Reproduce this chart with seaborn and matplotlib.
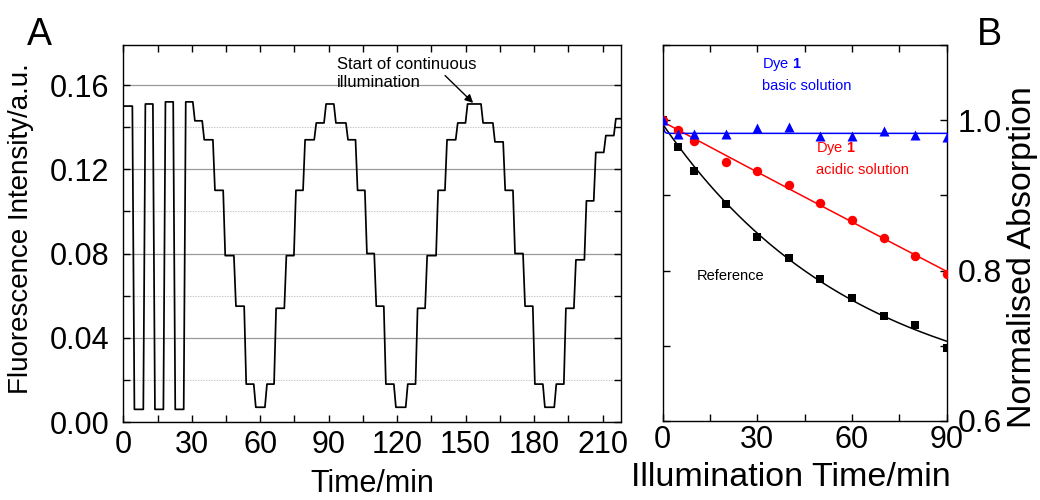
import numpy as np
import matplotlib
matplotlib.use("Agg")
import matplotlib.pyplot as plt
from matplotlib.ticker import MultipleLocator, FormatStrFormatter
import seaborn as sns

# ---------------- Panel A: fluorescence staircase trace ----------------
# intensity of each plateau (a.u.) and the times (min) at which the trace
# switches from one plateau to the next
plateau_level = [0.150, 0.006, 0.151, 0.006, 0.152, 0.006, 0.152,
                 0.143, 0.134, 0.110, 0.079, 0.055, 0.018, 0.007,
                 0.018, 0.054, 0.079, 0.110, 0.134, 0.142, 0.151,
                 0.142, 0.134, 0.110, 0.080, 0.055, 0.018, 0.007,
                 0.018, 0.054, 0.079, 0.110, 0.134, 0.142, 0.151,
                 0.142, 0.133, 0.110, 0.080, 0.055, 0.018, 0.007,
                 0.018, 0.054, 0.077, 0.105, 0.128, 0.136, 0.144]
switch_time = [4.4, 9.2, 13.4, 18.0, 22.3, 26.9,
               30.9, 35.0, 39.7, 44.2, 48.9, 53.4, 57.6,
               62.5, 66.5, 71.0, 75.2, 79.2, 84.1, 88.4,
               92.7, 98.0, 102.2, 106.3, 110.4, 114.6, 119.0,
               124.2, 128.5, 132.7, 137.5, 141.4, 146.1, 150.4,
               157.2, 162.4, 166.9, 171.2, 175.6, 179.9, 184.3,
               189.3, 193.5, 197.9, 202.5, 206.6, 211.0, 215.4]
trace_start, trace_end = 0.0, 218.0

# ---------------- Panel B: photobleaching kinetics ----------------
illum_time = [0, 5, 10, 20, 30, 40, 50, 60, 70, 80, 90]
abs_reference = [1.000, 0.965, 0.933, 0.889, 0.845, 0.817, 0.789, 0.764, 0.740, 0.728, 0.697]
abs_acidic = [1.000, 0.987, 0.973, 0.945, 0.933, 0.914, 0.890, 0.867, 0.843, 0.819, 0.796]
abs_basic = [1.000, 0.982, 0.982, 0.981, 0.989, 0.991, 0.979, 0.979, 0.985, 0.980, 0.977]

sns.set_theme(style="ticks")
plt.rcParams["font.family"] = ["Liberation Sans", "DejaVu Sans"]
plt.rcParams["mathtext.fontset"] = "custom"
plt.rcParams["mathtext.rm"] = "Liberation Sans"
plt.rcParams["mathtext.bf"] = "Liberation Sans:bold"
for key in ("text.color", "axes.labelcolor", "xtick.color", "ytick.color", "axes.edgecolor"):
    plt.rcParams[key] = "black"
plt.rcParams["axes.linewidth"] = 1.0

fig = plt.figure(figsize=(10.4, 5.0), dpi=100)
axA = fig.add_axes([0.1186, 0.156, 0.4783, 0.754])
axB = fig.add_axes([0.6372, 0.158, 0.2731, 0.752])

# trace vertices: each switch is a short, steep ramp between two plateaus
half_ramp = 0.45
trace_t = [trace_start]
trace_v = [plateau_level[0]]
for i, ts in enumerate(switch_time):
    trace_t += [ts - half_ramp, ts + half_ramp]
    trace_v += [plateau_level[i], plateau_level[i + 1]]
trace_t.append(trace_end)
trace_v.append(plateau_level[-1])

axA.set_axisbelow(True)
axA.yaxis.grid(True, which="major", color="#9a9a9a", linewidth=0.9, linestyle="-")
axA.yaxis.grid(True, which="minor", color="#c4c4c4", linewidth=0.8, linestyle=(0, (1.2, 1.2)))
axA.xaxis.grid(False, which="both")
sns.lineplot(x=trace_t, y=trace_v, sort=False, estimator=None, color="black",
             linewidth=1.25, ax=axA)

axA.set_xlim(0, 218)
axA.set_ylim(0, 0.179)
axA.xaxis.set_major_locator(MultipleLocator(30))
axA.xaxis.set_minor_locator(MultipleLocator(15))
axA.yaxis.set_major_locator(MultipleLocator(0.04))
axA.yaxis.set_minor_locator(MultipleLocator(0.02))
axA.yaxis.set_major_formatter(FormatStrFormatter("%.2f"))
axA.tick_params(which="both", direction="in", top=True, right=True, length=5, width=1.0,
                color="black")
axA.tick_params(axis="x", labelsize=22, pad=6)
axA.tick_params(axis="y", labelsize=22, pad=10)
axA.set_xlabel("Time/min", fontsize=22)
axA.xaxis.set_label_coords(0.5, -0.125)
axA.xaxis.label.set_va("top")
axA.set_ylabel("Fluorescence Intensity/a.u.", fontsize=20)
axA.yaxis.set_label_coords(-0.179, 0.512)
for sp in axA.spines.values():
    sp.set_visible(True)
    sp.set_color("black")

axA.text(93.5, 0.1735, "Start of continuous\nillumination", fontsize=12, va="top",
         ha="left", linespacing=1.25, color="black")
axA.annotate("", xy=(153.3, 0.1515), xytext=(141.0, 0.1645),
             arrowprops=dict(arrowstyle="-|>", color="black", lw=1.0,
                             mutation_scale=12, shrinkA=0, shrinkB=0))


def exp_fit(t, y):
    """Least-squares fit of y = c + a*exp(-k*t); returns a smooth curve."""
    t = np.asarray(t, float)
    y = np.asarray(y, float)
    best = None
    for k in np.logspace(-3.5, 0.5, 800):
        A = np.column_stack([np.ones_like(t), np.exp(-k * t)])
        coef, *_ = np.linalg.lstsq(A, y, rcond=None)
        r = np.sum((A @ coef - y) ** 2)
        if best is None or r < best[0]:
            best = (r, k, coef)
    _, k, (c, a) = best
    tt = np.linspace(0, 90, 300)
    return tt, c + a * np.exp(-k * tt)


series = [
    (abs_reference, "black", "s", 38),
    (abs_acidic, "#ff0000", "o", 46),
    (abs_basic, "#0000ff", "^", 52),
]
for vals, col, mk, sz in series:
    ft, fy = exp_fit(illum_time, vals)
    sns.lineplot(x=ft, y=fy, color=col, linewidth=1.1, ax=axB, sort=False, estimator=None)
    sns.scatterplot(x=illum_time, y=vals, color=col, marker=mk, s=sz, linewidth=0,
                    ax=axB, zorder=3)

axB.set_xlim(0, 90)
axB.set_ylim(0.6, 1.1)
axB.xaxis.set_major_locator(MultipleLocator(30))
axB.xaxis.set_minor_locator(MultipleLocator(15))
axB.yaxis.set_major_locator(MultipleLocator(0.2))
axB.yaxis.set_minor_locator(MultipleLocator(0.1))
axB.yaxis.set_major_formatter(FormatStrFormatter("%.1f"))
axB.tick_params(which="both", direction="in", top=True, right=True, left=True,
                length=5, width=1.0, color="black")
axB.tick_params(axis="y", labelleft=False, labelright=True, labelsize=23, pad=8)
axB.tick_params(axis="x", labelsize=22, pad=3)
axB.set_xlabel("Illumination Time/min", fontsize=24.5)
axB.xaxis.set_label_coords(0.45, -0.108)
axB.xaxis.label.set_va("top")
axB.yaxis.set_label_position("right")
axB.set_ylabel("Normalised Absorption", fontsize=24.5, rotation=90)
axB.yaxis.set_label_coords(1.212, 0.436)
axB.yaxis.label.set_va("top")
for sp in axB.spines.values():
    sp.set_visible(True)
    sp.set_color("black")

axB.text(31.4, 1.074, r"Dye $\mathbf{1}$", color="#0000ff", fontsize=10.5, va="center")
axB.text(31.4, 1.046, "basic solution", color="#0000ff", fontsize=10.5, va="center")
axB.text(48.5, 0.962, r"Dye $\mathbf{1}$", color="#ff0000", fontsize=10.5, va="center")
axB.text(48.5, 0.934, "acidic solution", color="#ff0000", fontsize=10.5, va="center")
axB.text(10.8, 0.793, "Reference", color="black", fontsize=10.5, va="center")

fig.text(0.038, 0.93, "A", fontsize=27, ha="center", va="center")
fig.text(0.951, 0.93, "B", fontsize=27, ha="center", va="center")

fig.savefig("out.png", dpi=100)
